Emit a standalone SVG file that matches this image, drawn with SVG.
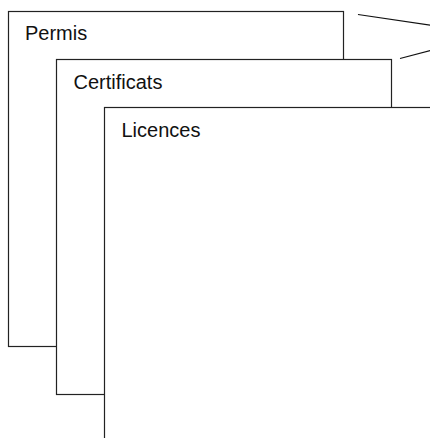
<svg xmlns="http://www.w3.org/2000/svg" width="430" height="438" viewBox="0 0 430 438">
<style>
.box{fill:#fff;stroke:#222;stroke-width:1.2}
.lbl{font-family:"Liberation Sans",Arial,sans-serif;font-size:20px;fill:#111}
.conn{stroke:#111;stroke-width:1.2;fill:none}
</style>
<rect width="430" height="438" fill="#fff"/>
<g id="connectors">
<line class="conn" x1="358" y1="14.5" x2="432" y2="25.5"/>
<line class="conn" x1="400" y1="58.5" x2="432" y2="50.2"/>
</g>
<g id="permis">
<rect class="box" x="8.5" y="11.5" width="335" height="335"/>
<text class="lbl" x="25" y="40">Permis</text>
</g>
<g id="certificats">
<rect class="box" x="56.5" y="59.5" width="335" height="335"/>
<text class="lbl" x="73.5" y="88.5">Certificats</text>
</g>
<g id="licences">
<rect class="box" x="104.5" y="107.5" width="335" height="335"/>
<text class="lbl" x="121.5" y="136.5">Licences</text>
</g>
</svg>
